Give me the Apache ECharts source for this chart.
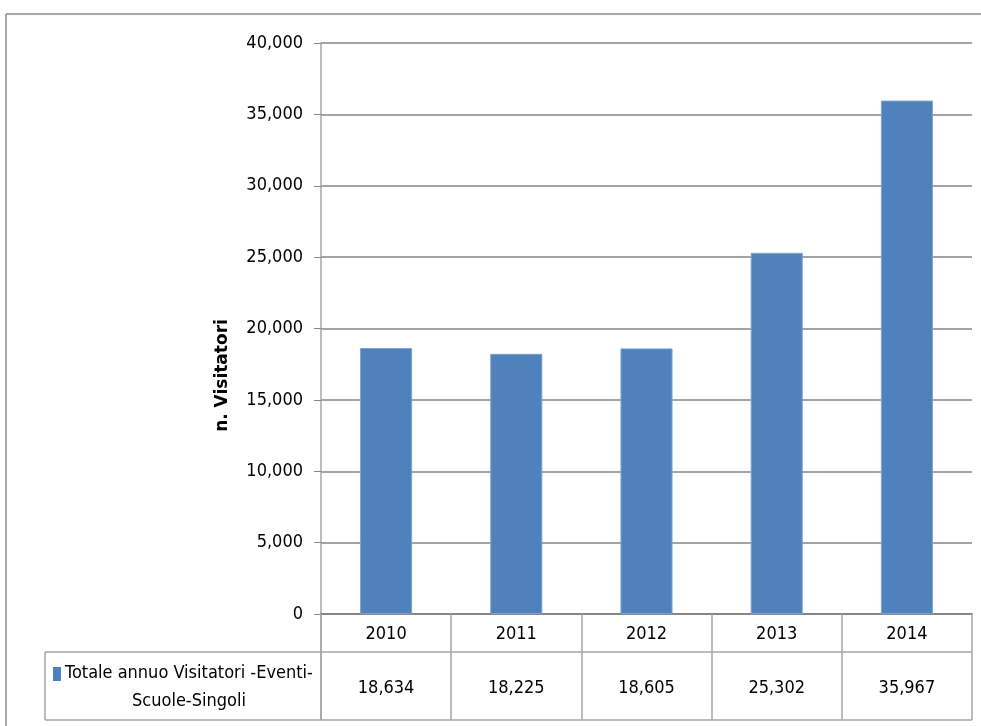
<!DOCTYPE html>
<html><head><meta charset="utf-8">
<script src="https://cdn.jsdelivr.net/npm/echarts@6/dist/echarts.min.js"></script>
<style>html,body{margin:0;padding:0;background:#fff}#c{width:981px;height:726px}</style>
</head><body><div id="c"></div>
<script>
var categories = ['2010', '2011', '2012', '2013', '2014'];
var visitors = [18634, 18225, 18605, 25302, 35967];
var seriesName = 'Totale annuo Visitatori -Eventi-\nScuole-Singoli';
var yTicks = { min: 0, max: 40000, interval: 5000 };
var yTitle = 'n. Visitatori';

var FONT = '"DejaVu Sans Condensed", "Open Sans", sans-serif';
var fmt = function (v) { return v.toLocaleString('en-US'); };
var chart = echarts.init(document.getElementById('c'));
var GRID = { left: 321, right: 9, top: 43, bottom: 112 };
chart.setOption({
  animation: false,
  grid: GRID,
  xAxis: {
    type: 'category', data: categories,
    axisLine: { lineStyle: { color: '#868686', width: 2 } },
    axisTick: { show: true, length: 106, lineStyle: { color: '#a6a6a6', width: 1.5 } },
    axisLabel: { color: '#000', fontFamily: FONT, fontSize: 18, margin: 11 }
  },
  yAxis: {
    type: 'value', min: yTicks.min, max: yTicks.max, interval: yTicks.interval,
    name: yTitle, nameLocation: 'middle', nameGap: 90, nameRotate: 90,
    nameTextStyle: { color: '#000', fontFamily: '"DejaVu Sans", sans-serif', fontWeight: 'bold', fontSize: 17, padding: [0, 94, 0, 0] },
    axisLine: { show: true, lineStyle: { color: '#a6a6a6', width: 1.5 } },
    axisTick: { show: true, length: 7, lineStyle: { color: '#868686' } },
    axisLabel: { color: '#000', fontFamily: FONT, fontSize: 18, margin: 18, formatter: fmt },
    splitLine: { lineStyle: { color: '#868686', width: 1.5 } }
  },
  series: [{
    type: 'bar', name: seriesName, data: visitors, barWidth: '40%',
    itemStyle: { color: '#4F81BD', borderColor: '#7FA3D0', borderWidth: 1 }
  }]
});

function build() {
  var g = [];
  var yBase = chart.convertToPixel({ yAxisIndex: 0 }, 0);
  var row1 = yBase + 38, row2 = yBase + 106;
  var xLeft = 45, xRight = 981 - GRID.right, xAxisLeft = GRID.left;
  var line = function (x1, y1, x2, y2, c) {
    g.push({ type: 'line', shape: { x1: x1, y1: y1, x2: x2, y2: y2 }, style: { stroke: c || '#a6a6a6', lineWidth: 1.5 }, z: 10 });
  };
  // outer chart border
  line(6, 14, 981, 14, '#8c8c8c');
  line(6, 14, 6, 726, '#8c8c8c');
  // table lines
  line(xLeft, row1, xRight, row1);
  line(xLeft, row2, xRight, row2);
  line(xLeft, row1, xLeft, row2);
  line(xAxisLeft, yBase, xAxisLeft, row2);
  // values
  var ymid = (row1 + row2) / 2 + 2;
  categories.forEach(function (c, i) {
    var x = chart.convertToPixel({ xAxisIndex: 0 }, c);
    g.push({ type: 'text', x: x, y: ymid, style: { text: fmt(visitors[i]), fill: '#000', font: '18px ' + FONT, align: 'center', verticalAlign: 'middle' }, z: 11 });
  });
  // legend cell
  var cx = (xLeft + xAxisLeft) / 2;
  var lines = seriesName.split('\n');
  g.push({ type: 'rect', shape: { x: 53, y: ymid - 21, width: 8, height: 14 }, style: { fill: '#4F81BD' }, z: 11 });
  g.push({ type: 'text', x: cx + 6, y: ymid - 15, style: { text: lines[0], fill: '#000', font: '18px ' + FONT, align: 'center', verticalAlign: 'middle' }, z: 11 });
  g.push({ type: 'text', x: cx + 6, y: ymid + 13, style: { text: lines[1], fill: '#000', font: '18px ' + FONT, align: 'center', verticalAlign: 'middle' }, z: 11 });
  chart.setOption({ graphic: g });
}
build();
</script></body></html>
